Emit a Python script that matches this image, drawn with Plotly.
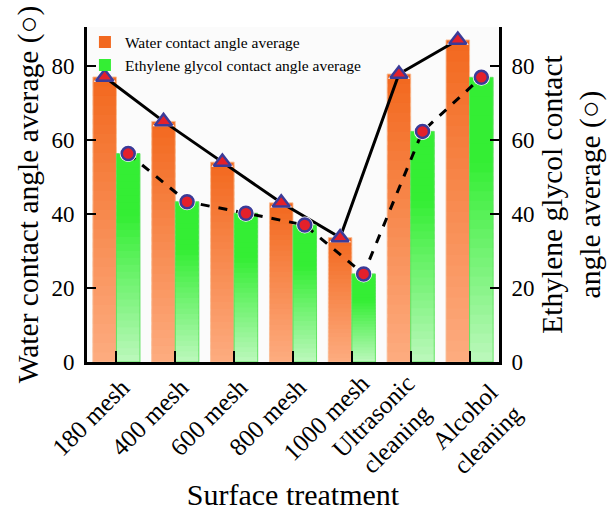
import plotly.graph_objects as go

# Surface treatments and the measured average contact angles (degrees)
treatments = ["180 mesh", "400 mesh", "600 mesh", "800 mesh", "1000 mesh",
              "Ultrasonic<br>cleaning", "Alcohol<br>cleaning"]
water_angle = [77.0, 65.0, 54.0, 43.0, 33.6, 77.8, 87.0]
glycol_angle = [56.3, 43.3, 40.2, 37.0, 23.8, 62.3, 76.9]

water_name = "Water contact angle average"
glycol_name = "Ethylene glycol contact angle average"

FONT = "Liberation Serif"
N_SEG = 30  # bars are built from stacked slices to get a vertical colour fade


def mix(c1, c2, t):
    return "rgb(%d,%d,%d)" % tuple(round(a + (b - a) * t) for a, b in zip(c1, c2))


def orange_at(t):  # t = 0 at bar top, 1 at bar bottom
    return mix((242, 104, 30), (253, 172, 128), t)


def green_at(t):
    f = max(0.0, (t - 0.3) / 0.7)
    return mix((52, 238, 52), (188, 248, 188), f)


fig = go.Figure()


def add_gradient_bars(values, colour_fn, group, yaxis, name, edge):
    for k in range(N_SEG):
        # each slice reaches a little into the next one so no seams show;
        # the slice above is drawn later and covers the overlap
        lo = [v * k / N_SEG for v in values]
        hi = [v * min(k + 1.6, N_SEG) / N_SEG for v in values]
        t = 1 - (k + 0.5) / N_SEG
        fig.add_trace(go.Bar(
            x=treatments,
            y=[h - l for h, l in zip(hi, lo)],
            base=lo,
            marker=dict(color=colour_fn(t), line=dict(width=0)),
            offsetgroup=group, alignmentgroup="all", yaxis=yaxis,
            name=name, showlegend=(k == N_SEG - 1),
            hoverinfo="skip",
        ))
    # thin outline round each whole bar
    fig.add_trace(go.Bar(
        x=treatments, y=values,
        marker=dict(color="rgba(0,0,0,0)", line=dict(color=edge, width=1)),
        offsetgroup=group, alignmentgroup="all", yaxis=yaxis,
        showlegend=False, name=name,
    ))


add_gradient_bars(water_angle, orange_at, "w", "y", water_name, "rgba(250,190,150,0.9)")
add_gradient_bars(glycol_angle, green_at, "g", "y2", glycol_name, "rgba(90,225,90,0.9)")


def add_trend(values, group, yaxis, dash, symbol, size):
    fig.add_trace(go.Scatter(
        x=treatments, y=values, mode="lines",
        line=dict(color="black", width=3, dash=dash),
        offsetgroup=group, alignmentgroup="all", yaxis=yaxis, showlegend=False,
    ))
    fig.add_trace(go.Scatter(
        x=treatments, y=values, mode="markers",
        marker=dict(symbol=symbol, size=size + 4, color="white"),
        offsetgroup=group, alignmentgroup="all", yaxis=yaxis, showlegend=False,
    ))
    fig.add_trace(go.Scatter(
        x=treatments, y=values, mode="markers",
        marker=dict(symbol=symbol, size=size, color="#e3202b",
                    line=dict(color="#3b3b98", width=2.5)),
        offsetgroup=group, alignmentgroup="all", yaxis=yaxis, showlegend=False,
    ))


add_trend(water_angle, "w", "y", "solid", "triangle-up", 15)
add_trend(glycol_angle, "g", "y2", "dash", "circle", 13)

# Category labels, rotated 45 degrees with centred lines; the last one is
# nudged right so it clears its neighbour
label_nudge = {"Alcohol<br>cleaning": 33}
for cat in treatments:
    n_lines = cat.count("<br>") + 1
    fig.add_annotation(
        x=cat, xref="x", y=0, yref="paper",
        text=cat, textangle=-45, showarrow=False, align="center",
        xanchor="center", yanchor="middle",
        xshift=-26 + label_nudge.get(cat, 0),
        yshift=-(55 + 11 * (n_lines - 1)),
        font=dict(family=FONT, size=25, color="black"),
    )

axis_common = dict(
    range=[0, 90.5], dtick=20, ticks="inside", ticklen=9, tickwidth=2,
    tickcolor="black", showline=True, linecolor="black", linewidth=3,
    showgrid=False, zeroline=False, automargin=False,
    tickfont=dict(family=FONT, size=23, color="black"),
)

fig.update_layout(
    width=611, height=513,
    margin=dict(l=87, r=112, t=27, b=151),
    paper_bgcolor="white", plot_bgcolor="#fbfbfb",
    barmode="group", bargap=0.2, bargroupgap=0,
    scattermode="group", scattergap=0.2,
    font=dict(family=FONT, color="black"),
    xaxis=dict(
        type="category", categoryorder="array", categoryarray=treatments,
        range=[-0.5, len(treatments) - 0.5],
        ticks="inside", ticklen=11, tickwidth=2, tickcolor="black",
        showline=True, linecolor="black", linewidth=3, showgrid=False,
        showticklabels=False, automargin=False,
        title=dict(text="Surface treatment", font=dict(family=FONT, size=30),
                   standoff=120),
    ),
    yaxis=dict(
        **axis_common, ticklabelstandoff=5,
        title=dict(text="Water contact angle average (○)",
                   font=dict(family=FONT, size=29.5), standoff=5),
    ),
    yaxis2=dict(
        **axis_common, overlaying="y", side="right", ticklabelstandoff=5,
        title=dict(text="Ethylene glycol contact<br>angle average (○)",
                   font=dict(family=FONT, size=29.5), standoff=8),
    ),
    legend=dict(
        x=-0.005, y=1.005, xanchor="left", yanchor="top",
        bgcolor="rgba(0,0,0,0)", font=dict(family=FONT, size=15.5),
        tracegroupgap=0,
    ),
)

fig.write_html("out.html")
